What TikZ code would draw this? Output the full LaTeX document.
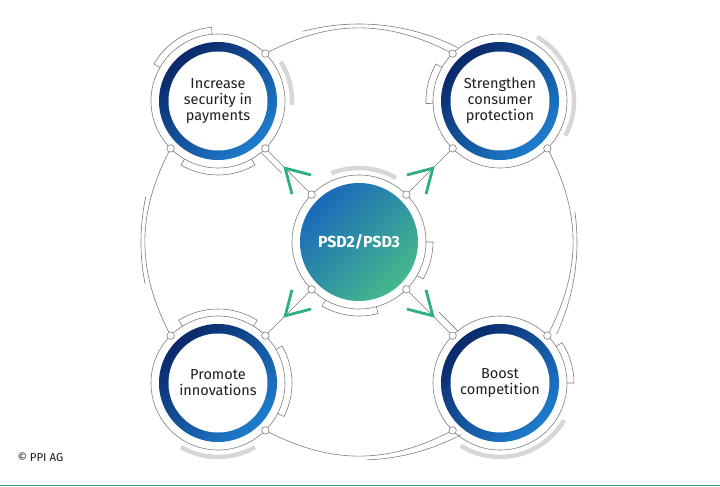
\documentclass[tikz,border=0pt]{standalone}
\usepackage{fontspec}
\setmainfont{Fira Sans}
\usetikzlibrary{arrows.meta, calc, decorations.markings}
\definecolor{navy}{RGB}{10,40,105}
\definecolor{brightblue}{RGB}{30,125,205}
\definecolor{psdblue}{RGB}{25,105,185}
\definecolor{psdgreen}{RGB}{70,185,140}
\definecolor{arrowgreen}{RGB}{45,175,130}
\definecolor{linegray}{RGB}{125,125,125}
\definecolor{arcgray}{RGB}{215,215,215}
\definecolor{textdark}{RGB}{30,30,35}
\definecolor{footteal}{RGB}{40,160,140}

\begin{document}
\begin{tikzpicture}[x=1pt, y=1pt,
    goal/.style={circle, minimum size=118pt, inner sep=0pt, top color=navy, bottom color=brightblue, shading angle=45,
        path picture={\fill[white] (path picture bounding box.center) circle (49.5pt);},
        align=center, text=textdark, font=\fontsize{14.5}{16}\selectfont},
    hub/.style={circle, minimum size=118pt, inner sep=0pt, top color=psdblue, bottom color=psdgreen, shading angle=45,
        text=white, font=\fontsize{16}{18}\selectfont\bfseries},
    ring/.style={draw=linegray, line width=0.6pt},
    link/.style={draw=linegray, line width=0.6pt},
    dot/.style={circle, draw=linegray, fill=white, line width=0.6pt, inner sep=0pt, minimum size=7.5pt},
    greyarc/.style={draw=arcgray, line width=4.5pt},
    chevron/.style={postaction={decorate, decoration={markings, mark=at position #1 with
        {\arrow{Straight Barb[length=23pt, width=27pt, line width=2.8pt, color=arrowgreen]}}}}}
]
    \useasboundingbox (-359,-245) rectangle (361,242);

    % Mitte
    \node[hub] (psd) at (0,0) {PSD2/PSD3};

    % Ziele
    \node[goal] (tl) at (-141,141) {Increase\\security in\\payments};
    \node[goal] (tr) at (141,141) {Strengthen\\consumer\\protection};
    \node[goal] (bl) at (-141,-141) {Promote\\innovations};
    \node[goal] (br) at (141,-141) {Boost\\competition};

    % duenne Ringe
    \foreach \c in {psd,tl,tr,bl,br}
        \draw[ring] (\c.center) circle (67);

    % graue Boegen
    \foreach \c/\a/\b in {tl/-3/32, tr/-28/60, bl/240/300, br/238/330, psd/60/112}
        \draw[greyarc] ([shift={(\a:74)}]\c.center) arc[start angle=\a, end angle=\b, radius=74];

    % Klammern
    \foreach \c/\a/\b in {tl/95/150, tl/240/300, tr/150/182, bl/58/122, bl/-27/30, br/0/33, psd/-30/0, psd/240/285}
        \draw[ring] ([shift={(\a:67)}]\c.center) -- ([shift={(\a:74)}]\c.center)
            arc[start angle=\a, end angle=\b, radius=74] -- ([shift={(\b:67)}]\c.center);

    % Punkte auf den Ringen
    \foreach \c/\a/\n in {tl/45/ne, tl/225/sw, tl/315/se, tr/135/nw, tr/225/sw, tr/315/se,
                          bl/135/nw, bl/45/ne, bl/315/se, br/45/ne, br/135/nw, br/225/sw,
                          psd/45/ne, psd/135/nw, psd/225/sw, psd/315/se}
        \node[dot] (\c-\n) at ([shift={(\a:67)}]\c.center) {};

    % grosser Kreis
    \draw[link] (tl-ne) to[bend left=27] (tr-nw);
    \draw[link] (tr-se) to[bend left=27] (br-ne);
    \draw[link] (br-sw) to[bend left=27] (bl-se);
    \draw[link] (bl-nw) to[bend left=27] (tl-sw);
    \foreach \a/\b in {105/63, 168/191, 8/-25, -62/-88}
        \draw[link] ([shift={(\a:218)}]psd.center) arc[start angle=\a, end angle=\b, radius=218];

    % Pfeile
    \draw[link, chevron=0.63] (psd-nw) -- (tl-se);
    \draw[link, chevron=0.63] (psd-ne) -- (tr-sw);
    \draw[link, chevron=0.63] (psd-sw) -- (bl-ne);
    \draw[link, chevron=0.63] (psd-se) -- (br-nw);
    \draw[link] ($(tl-se.center)+(225:6)$) -- ($(tl-se.center)!0.45!(psd-nw.center)+(225:6)$);
    \draw[link] ($(br-nw.center)+(45:7)$) -- ($(br-nw.center)!0.4!(psd-se.center)+(45:7)$);

    % Fusszeile
    \node[anchor=west, font=\fontsize{11.5}{13}\selectfont, text=textdark] (copy) at (-345,-215) {© PPI AG};
    \draw[footteal, line width=1pt] (-359,-243) -- (361,-243);
\end{tikzpicture}
\end{document}
